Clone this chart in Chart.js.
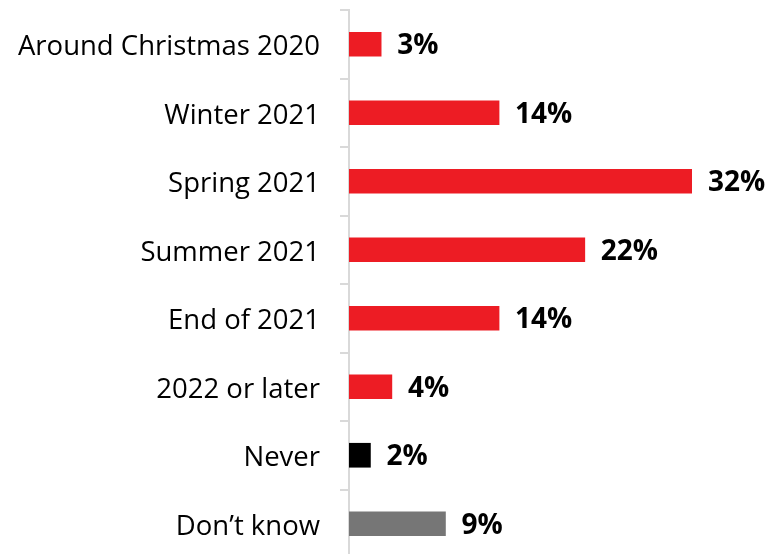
<!DOCTYPE html>
<html>
<head>
<meta charset="utf-8">
<script src="https://cdn.jsdelivr.net/npm/chart.js@4/dist/chart.umd.min.js"></script>
<style>
  html, body { margin: 0; padding: 0; background: #fff; overflow: hidden; }
  #wrap { position: relative; width: 766px; height: 560px; }
</style>
</head>
<body>
<div id="wrap"><canvas id="chart"></canvas></div>
<script>
// Chart data
const categories = ['Around Christmas 2020', 'Winter 2021', 'Spring 2021', 'Summer 2021',
                    'End of 2021', '2022 or later', 'Never', 'Don\u2019t know'];
const shares = [3, 14, 32, 22, 14, 4, 2, 9];
const barColors = ['#ED1C24', '#ED1C24', '#ED1C24', '#ED1C24', '#ED1C24', '#ED1C24', '#000000', '#767676'];

// Draw the percentage labels next to each bar
const valueLabels = {
    id: 'valueLabels',
    afterDatasetsDraw(chart) {
        const ctx = chart.ctx;
        const meta = chart.getDatasetMeta(0);
        ctx.save();
        ctx.font = 'bold 28px "Open Sans", sans-serif';
        ctx.fillStyle = '#000';
        ctx.textAlign = 'left';
        ctx.textBaseline = 'middle';
        meta.data.forEach(function(bar, i) {
            ctx.fillText(shares[i] + '%', bar.x + 16, bar.y + 2);
        });
        ctx.restore();
    }
};

document.addEventListener('DOMContentLoaded', function() {
    const ctx = document.getElementById('chart').getContext('2d');
    new Chart(ctx, {
        type: 'bar',
        data: {
            labels: categories,
            datasets: [{
                data: shares,
                backgroundColor: barColors,
                barThickness: 24
            }]
        },
        options: {
            indexAxis: 'y',
            responsive: true,
            maintainAspectRatio: false,
            animation: false,
            layout: { padding: { top: 10, right: 74, bottom: 2, left: 0 } },
            plugins: {
                legend: { display: false },
                tooltip: { enabled: false }
            },
            scales: {
                x: {
                    display: false,
                    min: 0,
                    max: 32
                },
                y: {
                    afterFit: function(scale) {
                        scale.width = 349;
                        scale.paddingTop = 0;
                        scale.paddingBottom = 0;
                    },
                    border: { display: true, color: '#d9d9d9', width: 2 },
                    grid: {
                        offset: true,
                        drawOnChartArea: false,
                        drawTicks: true,
                        tickLength: 9,
                        color: '#d9d9d9',
                        lineWidth: 2
                    },
                    ticks: {
                        color: '#000',
                        padding: 20,
                        labelOffset: 3,
                        font: { family: '"Open Sans", sans-serif', size: 27.5 }
                    }
                }
            }
        },
        plugins: [valueLabels]
    });
});
</script>
</body>
</html>
